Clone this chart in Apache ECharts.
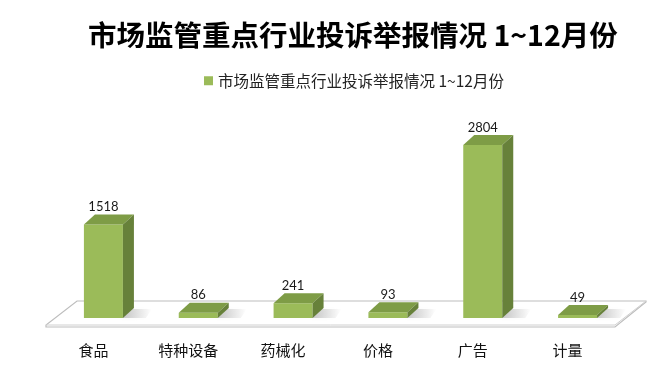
<!DOCTYPE html>
<html><head><meta charset="utf-8">
<script src="https://cdn.jsdelivr.net/npm/echarts@6/dist/echarts.min.js"></script>
<style>html,body{margin:0;padding:0;background:#fff}#c{width:672px;height:374px}</style>
</head><body><div id="c"></div>
<script>
var titleText = '市场监管重点行业投诉举报情况 1~12月份';
var seriesName = '市场监管重点行业投诉举报情况 1~12月份';
var categories = ['食品', '特种设备', '药械化', '价格', '广告', '计量'];
var values = [1518, 86, 241, 93, 2804, 49];

var FRONT = '#9BBB59', TOP = '#7E9C46', SIDE = '#67813A';
var chart = echarts.init(document.getElementById('c'));

function renderFloor(params, api) {
  var cs = params.coordSys;
  var base = cs.y + cs.height;
  var fl = cs.x, fr = cs.x + cs.width;
  var fy = base + 7, by = base - 17, d = 31;
  return {
    type: 'group',
    children: [
      {type: 'polygon', shape: {points: [[fl, fy + 2], [fr, fy + 2], [fr + d, by + 1], [fr + d, by], [fl + d, by], [fl, fy]]},
       style: {fill: '#ffffff', stroke: '#bdbdbd', lineWidth: 1.2}},
      {type: 'polyline', shape: {points: [[fl, fy], [fr, fy], [fr + d, by]]},
       style: {fill: null, stroke: '#d0d0d0', lineWidth: 1}}
    ]
  };
}

function renderBar(params, api) {
  var v = api.value(1);
  var top = api.coord([api.value(0), v]);
  var base = api.coord([api.value(0), 0]);
  var cx = top[0] + 10, w = 39, dx = 11, dy = 10;
  var x0 = cx - w / 2, x1 = cx + w / 2, yt = top[1], yb = base[1];
  var sh = new echarts.graphic.LinearGradient(0, 0, 1, 0, [
    {offset: 0, color: 'rgba(0,0,0,0.22)'}, {offset: 1, color: 'rgba(0,0,0,0)'}]);
  return {
    type: 'group',
    children: [
      {type: 'polygon', shape: {points: [[x1 - 2, yb], [x1 + dx + 12, yb], [x1 + dx + 18, yb - dy + 1], [x1 + dx - 2, yb - dy + 1]]},
       style: {fill: sh, shadowBlur: 4, shadowColor: 'rgba(0,0,0,0.15)'}},
      {type: 'rect', shape: {x: x0, y: yt, width: w, height: yb - yt}, style: {fill: FRONT}},
      {type: 'polygon', shape: {points: [[x0, yt], [x1, yt], [x1 + dx, yt - dy], [x0 + dx, yt - dy]]}, style: {fill: TOP}},
      {type: 'polygon', shape: {points: [[x1, yt], [x1 + dx, yt - dy], [x1 + dx, yb - dy], [x1, yb]]}, style: {fill: SIDE}},
      {type: 'text', x: cx, y: yt - dy - 1,
       style: {text: String(v), fill: '#1a1a1a', font: '13px Lato, "Noto Sans", sans-serif', align: 'center', verticalAlign: 'bottom'}}
    ]
  };
}

chart.setOption({
  animation: false,
  title: {text: titleText, left: 83, top: 16,
          textStyle: {fontSize: 28.5, fontWeight: 'bold', color: '#000', fontFamily: '"Noto Sans CJK SC", sans-serif'}},
  legend: {data: [{name: seriesName, icon: 'rect'}], top: 68, left: 199,
           itemWidth: 9, itemHeight: 9, itemGap: 5,
           textStyle: {fontSize: 15.5, color: '#222', fontFamily: '"Noto Sans CJK SC", sans-serif'}},
  grid: {left: 46, right: 57, top: 133, bottom: 56},
  xAxis: {type: 'category', data: categories, axisLine: {show: false}, axisTick: {show: false},
          axisLabel: {margin: 25, fontSize: 15, color: '#111', fontFamily: '"Noto Sans CJK SC", sans-serif'}},
  yAxis: {type: 'value', min: 0, max: 3000, show: false, splitLine: {show: false}},
  series: [
    {type: 'custom', name: 'floor', z: 1, silent: true, renderItem: renderFloor, data: [[0, 0]], encode: {x: 0, y: 1}, legendHoverLink: false},
    {type: 'custom', name: seriesName, z: 2, renderItem: renderBar, itemStyle: {color: FRONT},
     data: values.map(function (v, i) { return [i, v]; }), encode: {x: 0, y: 1}}
  ]
});
</script></body></html>
